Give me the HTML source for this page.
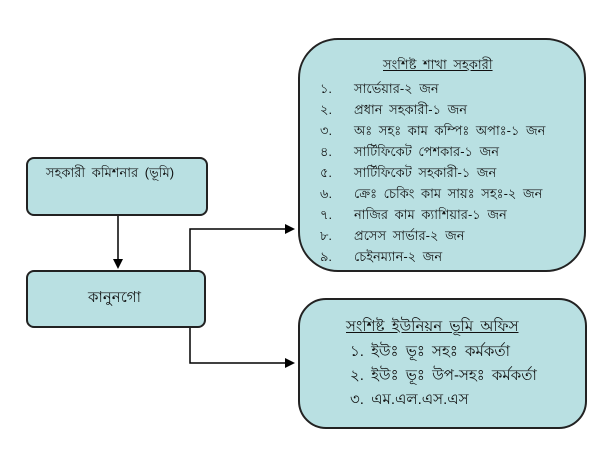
<!DOCTYPE html>
<html><head><meta charset="utf-8"><style>
body{margin:0;width:600px;height:463px;background:#fff;position:relative;overflow:hidden;font-family:"Liberation Sans","Noto Sans CJK SC",sans-serif;color:#111}
.b{position:absolute;background:#b9e0e2;border:2px solid #222;box-sizing:border-box}
.t{position:absolute;font-size:13px;white-space:nowrap;word-spacing:3px}
</style></head><body>
<div class="b" style="left:26px;top:157px;width:182px;height:59px;border-radius:8px"></div>
<div class="t" style="left:46px;top:164px">সহকারী কমিশনার (ভূমি)</div>
<div class="b" style="left:26px;top:270px;width:180px;height:58px;border-radius:8px"></div>
<div class="t" style="left:88px;top:286px;font-size:15px">কানুনগো</div>
<div class="b" style="left:298px;top:38px;width:288px;height:234px;border-radius:40px"></div>
<div class="t" style="left:383px;top:56px;text-decoration:underline">সংশিষ্ট শাখা সহকারী</div>
<div class="t" style="left:320px;top:78px;line-height:21px">১.<br>২.<br>৩.<br>৪.<br>৫.<br>৬.<br>৭.<br>৮.<br>৯.</div>
<div class="t" style="left:354px;top:78px;line-height:21px">সার্ভেয়ার-২ জন<br>প্রধান সহকারী-১ জন<br>অঃ সহঃ কাম কম্পিঃ অপাঃ-১ জন<br>সার্টিফিকেট পেশকার-১ জন<br>সার্টিফিকেট সহকারী-১ জন<br>ক্রেঃ চেকিং কাম সায়ঃ সহঃ-২ জন<br>নাজির কাম ক্যাশিয়ার-১ জন<br>প্রসেস সার্ভার-২ জন<br>চেইনম্যান-২ জন</div>
<div class="b" style="left:298px;top:298px;width:289px;height:131px;border-radius:28px"></div>
<div class="t" style="left:346px;top:314px;font-size:15px;text-decoration:underline;line-height:26px">সংশিষ্ট ইউনিয়ন ভূমি অফিস</div>
<div class="t" style="left:350px;top:340px;font-size:15px;line-height:24px">১. ইউঃ ভূঃ সহঃ কর্মকর্তা<br>২. ইউঃ ভূঃ উপ-সহঃ কর্মকর্তা<br>৩. এম.এল.এস.এস</div>
<svg width="600" height="463" style="position:absolute;left:0;top:0">
<g stroke="#000" stroke-width="1.5" fill="none">
<line x1="118" y1="216" x2="118" y2="260"/>
<polyline points="190,270 190,229 286,229"/>
<polyline points="190,328 190,363 286,363"/>
</g>
<polygon points="113,259 123,259 118,269" fill="#000"/>
<polygon points="285,224 295,229 285,234" fill="#000"/>
<polygon points="285,358 295,363 285,368" fill="#000"/>
</svg>
</body></html>
